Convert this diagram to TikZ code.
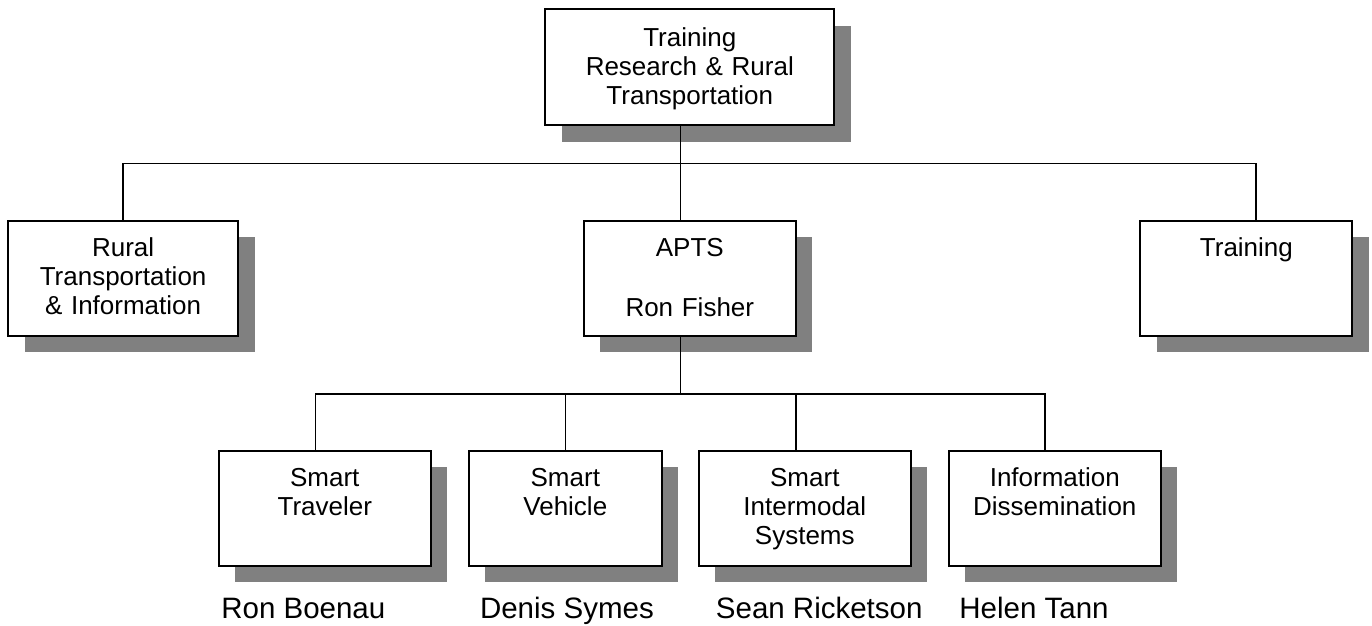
\documentclass[tikz,border=0pt]{standalone}
\usepackage{fontspec}
\setmainfont{Liberation Sans}
\usetikzlibrary{shadows}

\begin{document}
\begin{tikzpicture}[x=1pt, y=1pt,
    box/.style={draw, rectangle, fill=white, line width=2pt, inner xsep=4pt, inner ysep=0pt,
        text width=204pt, align=center, text height=35.5pt, text depth=79.5pt,
        font=\fontsize{26pt}{29.3pt}\selectfont,
        drop shadow={shadow xshift=16.5pt, shadow yshift=-16.5pt, fill=black!50, opacity=1}},
    person/.style={anchor=base west, font=\fontsize{29.5pt}{32pt}\selectfont},
    link/.style={line width=1.5pt}]
    \useasboundingbox (0,0) rectangle (1372,-625);

    % Top
    \node[box, text width=281pt, text height=37pt, text depth=79pt] (top) at (689.8,-67) {Training\\Research \& Rural\\Transportation};

    % Second level
    \node[box, below of=top, node distance=211pt] (apts) {APTS\\[31pt]Ron Fisher};
    \node[box, left of=apts, node distance=566.7pt, text width=222pt] (rural) {Rural\\Transportation\\\& Information};
    \node[box, right of=apts, node distance=556.6pt] (training) {Training};

    % APTS groups
    \node[box, below of=apts, node distance=230pt, xshift=-124.5pt, text width=185pt] (vehicle) {Smart\\Vehicle};
    \node[box, left of=vehicle, node distance=240.5pt] (traveler) {Smart\\Traveler};
    \node[box, right of=vehicle, node distance=239.5pt] (intermodal) {Smart\\Intermodal\\Systems};
    \node[box, right of=intermodal, node distance=250pt] (dissem) {Information\\Dissemination};

    % People
    \node[person] (travelername) at ([yshift=-52.3pt]traveler.south west) {Ron Boenau};
    \node[person] (vehiclename) at ([xshift=8.7pt, yshift=-52.3pt]vehicle.south west) {Denis Symes};
    \node[person] (intermodalname) at ([xshift=14.6pt, yshift=-52.3pt]intermodal.south west) {Sean Ricketson};
    \node[person] (dissemname) at ([xshift=8pt, yshift=-52.3pt]dissem.south west) {Helen Tann};

    % Connections
    \coordinate (topbus) at ([xshift=-9.5pt, yshift=-37.4pt]top.south);
    \coordinate (aptsbus) at ([xshift=-9.5pt, yshift=-57.3pt]apts.south);
    \draw[link] ([xshift=-9.5pt]top.south) -- ([xshift=-9.5pt]apts.north);
    \draw[link] (rural.north) |- (topbus) -| ([xshift=9.5pt]training.north);
    \draw[link] ([xshift=-9.5pt]apts.south) -- (aptsbus);
    \draw[link] ([xshift=-9.3pt]traveler.north) |- (aptsbus) -| ([xshift=-10pt]dissem.north);
    \draw[link] (vehicle.north) |- (aptsbus);
    \draw[link] ([xshift=-9pt]intermodal.north) |- (aptsbus);
\end{tikzpicture}
\end{document}
